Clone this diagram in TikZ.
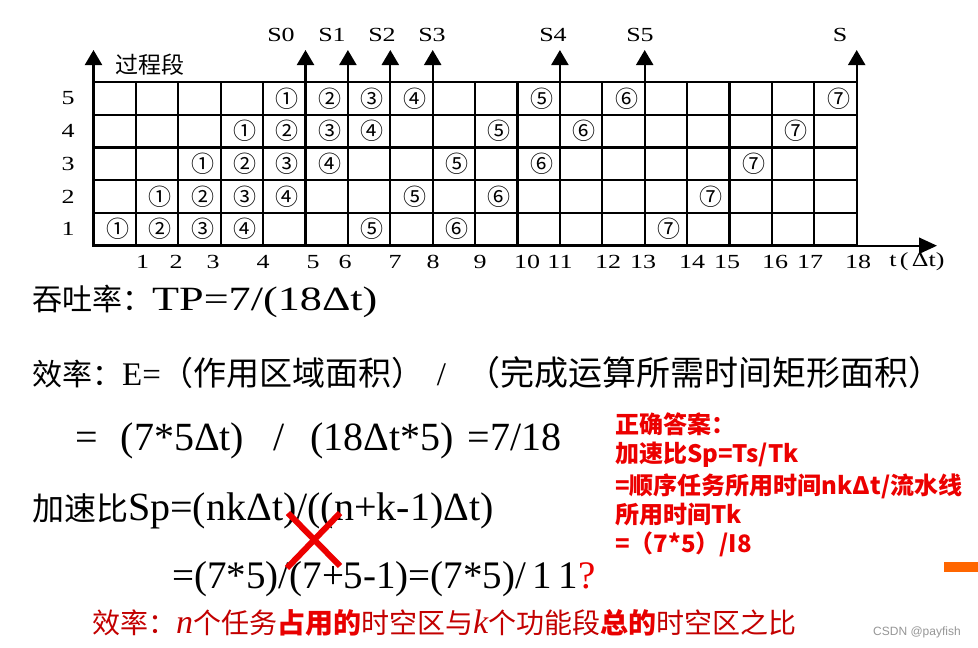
\documentclass[tikz,border=0pt]{standalone}
\usepackage{fontspec}
\setmainfont{Liberation Serif}
\newfontfamily\cjk{Noto Sans CJK SC}
\newfontfamily\wserif{Liberation Serif}[FakeStretch=1.3]
\newfontfamily\lsans{Liberation Sans}
\usetikzlibrary{arrows.meta}
\newcommand\fsz[1]{\fontsize{#1}{#1}\selectfont}
\newcommand\circnum[1]{\ifcase#1\or ①\or ②\or ③\or ④\or ⑤\or ⑥\or ⑦\fi}
\definecolor{rred}{RGB}{236,0,0}
\definecolor{dred}{RGB}{195,0,0}
\definecolor{bred}{RGB}{232,0,0}
\definecolor{orng}{RGB}{255,102,0}
\begin{document}
\begin{tikzpicture}[x=1pt,y=-1pt,
  gridline/.style={line width=2.2pt,line cap=rect},
  arr/.style={line width=2.2pt,-{Triangle[width=17pt,length=15pt]}},
  harr/.style={line width=2.2pt,-{Triangle[width=16pt,length=18pt]}},
  cnum/.style={font=\cjk\fsz{23},inner sep=0pt},
  axlab/.style={font=\wserif\fsz{20},inner sep=0pt},
  txt/.style={anchor=west,inner sep=0pt},
  rtxt/.style={anchor=west,inner sep=0pt,font=\cjk\bfseries\fsz{24},text=rred},
  xline/.style={line width=6pt,draw=rred}]
\useasboundingbox (0,0) rectangle (978,648);
\fill[white] (0,0) rectangle (978,648);
\def\xo{93.5}\def\cw{42.4}\def\yt{82}\def\rh{32.7}
% grid
\foreach \i in {0,...,18}
  \draw[gridline] ({\xo+\i*\cw},\yt) -- ({\xo+\i*\cw},{\yt+5*\rh});
\foreach \j in {0,...,5}
  \draw[gridline] (\xo,{\yt+\j*\rh}) -- ({\xo+18*\cw},{\yt+\j*\rh});
% circled task numbers
\foreach \s in {1,...,5}{
  \foreach \t/\off in {1/0,2/1,3/2,4/3,5/6,6/8,7/13}{
    \node[cnum] (n\s-\t) at ({\xo+(\s+\off-0.5)*\cw+3},{\yt+(5.5-\s)*\rh}) {\circnum{\t}};
  }
  \node[axlab] (row\s) at (68,{\yt+(5.5-\s)*\rh}) {\s};
}
% column numbers
\foreach \c/\px in {1/142.7,2/176,3/213,4/263,5/313,6/345,7/395,8/433,9/480,10/527,11/560,12/608,13/643,14/692,15/727,16/775,17/810,18/858}
  \node[axlab] (col\c) at (\px,262) {\c};
\node[axlab] (tlab) at (917,262) {t\,(\,Δt)};
% vertical axis
\coordinate (ya0) at (\xo,\yt);
\coordinate (ya1) at (\xo,50);
\draw[arr] (ya0) -- (ya1);
\node[inner sep=0pt,font=\cjk\fsz{23}] (guo) at (150,65) {过程段};
% S arrows
\foreach \k/\lab/\lx in {5/S0/281,6/S1/332,7/S2/382,8/S3/432,11/S4/553,13/S5/640,18/S/840}{
  \coordinate (sa\k) at ({\xo+\k*\cw},87);
  \coordinate (st\k) at ({\xo+\k*\cw},50);
  \draw[arr] (sa\k) -- (st\k);
  \node[axlab] (lab\k) at (\lx,35) {\lab};
}
% horizontal axis
\coordinate (xa0) at (842,245.7);
\coordinate (xa1) at (937,245.7);
\draw[harr] (xa0) -- (xa1);
% formulas
\node[txt] (tp) at (32,301) {\cjk\fsz{30}吞吐率：\wserif\fsz{34}TP=7/(18Δt)};
\node[txt] (eff) at (32,373) {\cjk\fsz{30}效率：\rmfamily\fsz{33}E=\cjk\fsz{33}（作用区域面积）\rmfamily\hspace{12pt}/\hspace{20pt}\cjk\fsz{34}（完成运算所需时间矩形面积）};
\node[txt] (eq1) at (75,441) {\rmfamily\fsz{40}=\hspace{23pt}(7*5Δt)\hspace{29pt}/\hspace{26pt}(18Δt*5)\hspace{14pt}=7/18};
\node[txt] (sp) at (32,511) {\cjk\fsz{32}加速比\rmfamily\fsz{40}Sp=(nkΔt)/((n+k-1)Δt)};
\node[txt] (sp2) at (172,579) {\rmfamily\fsz{39}=(7*5)/(7+5-1)=(7*5)/\,1\,1\textcolor{rred}{?}};
% red cross
\coordinate (xa) at (288,513);
\coordinate (xb) at (340,566);
\coordinate (xc) at (340,513);
\coordinate (xd) at (287,568);
\draw[xline] (xa) -- (xb);
\draw[xline] (xc) -- (xd);
% correct answer
\node[rtxt] (r1) at (615,424) {正确答案：};
\node[rtxt] (r2) at (615,455) {加速比Sp=Ts/Tk};
\node[rtxt] (r3) at (615,486) {=顺序任务所用时间nkΔt/流水线};
\node[rtxt] (r4) at (615,515) {所用时间Tk};
\node[rtxt] (r5) at (615,544) {=（7*5）/I8};
% bottom line
\node[txt] (bl) at (92,623) {\cjk\fsz{28}\color{dred}效率：{\rmfamily\itshape\fsz{34}n}个任务{\bfseries\color{bred}占用的}时空区与{\rmfamily\itshape\fsz{34}k}个功能段{\bfseries\color{bred}总的}时空区之比};
% decorations
\fill[orng] (944,562) rectangle (978,572);
\node[inner sep=0pt,font=\lsans\fsz{12},text={rgb,255:red,150;green,150;blue,150}] (wm) at (917,632) {CSDN @payfish};
\end{tikzpicture}
\end{document}
